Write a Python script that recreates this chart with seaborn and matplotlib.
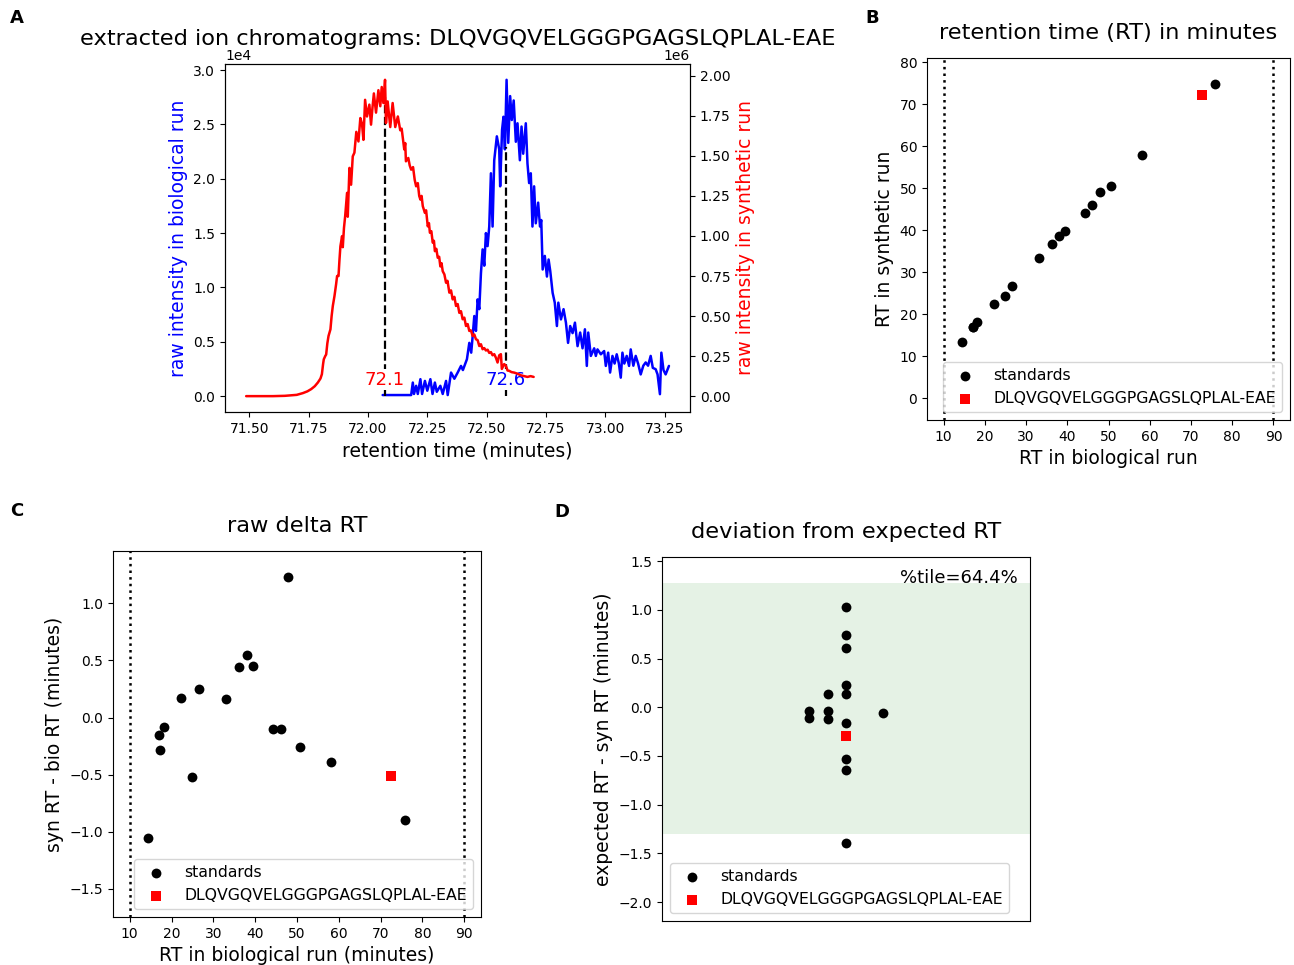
import numpy as np
import matplotlib
matplotlib.use("Agg")
import matplotlib.pyplot as plt
import matplotlib.transforms as mtransforms
import seaborn as sns

peptide = "DLQVGQVELGGGPGAGSLQPLAL-EAE"

# --- A: extracted ion chromatograms ---
# biological run, intensity in units of 1e4
bio_rt = [72.062, 72.10, 72.14, 72.182, 72.189, 72.194, 72.203, 72.210, 72.221, 72.228,
          72.24, 72.25, 72.263, 72.272, 72.282, 72.29, 72.305, 72.315, 72.329, 72.336,
          72.35, 72.364, 72.378, 72.392, 72.40, 72.417, 72.427, 72.435, 72.441, 72.448,
          72.455, 72.462, 72.469, 72.476, 72.483, 72.490, 72.497, 72.504, 72.511, 72.518,
          72.525, 72.532, 72.543, 72.553, 72.557, 72.565, 72.571, 72.577, 72.584, 72.591,
          72.599, 72.606, 72.614, 72.623, 72.63, 72.64, 72.647, 72.654, 72.665, 72.672,
          72.679, 72.686, 72.693, 72.70, 72.707, 72.717, 72.725, 72.73, 72.736, 72.745,
          72.754, 72.761, 72.768, 72.778, 72.787, 72.796, 72.802, 72.813, 72.824, 72.834,
          72.843, 72.852, 72.862, 72.872, 72.883, 72.894, 72.904, 72.914, 72.922, 72.928,
          72.939, 72.953, 72.96, 72.967, 72.981, 72.995, 73.002, 73.012, 73.02, 73.03,
          73.039, 73.048, 73.057, 73.065, 73.072, 73.08, 73.09, 73.10, 73.107, 73.118,
          73.128, 73.138, 73.149, 73.16, 73.17, 73.18, 73.191, 73.20, 73.212, 73.22,
          73.23, 73.236, 73.245, 73.254, 73.268]
bio_int = [0.01, 0.01, 0.01, 0.01, 0.125, 0.02, 0.095, 0.02, 0.156, 0.02,
           0.14, 0.05, 0.156, 0.02, 0.125, 0.04, 0.095, 0.02, 0.14, 0.01,
           0.217, 0.16, 0.217, 0.278, 0.24, 0.34, 0.49, 0.40, 0.55, 0.737,
           0.60, 0.89, 0.80, 1.13, 1.35, 1.20, 1.50, 1.38, 1.56, 2.05,
           1.56, 2.17, 2.39, 2.27, 1.93, 2.45, 2.57, 2.27, 2.91, 2.33,
           2.76, 2.54, 2.72, 2.34, 2.51, 2.17, 2.48, 2.23, 2.51, 2.14,
           1.96, 2.05, 1.56, 1.93, 1.59, 1.78, 1.56, 1.62, 1.165, 1.29,
           1.10, 1.257, 1.15, 0.95, 0.86, 0.645, 0.86, 0.706, 0.80, 0.676,
           0.49, 0.645, 0.58, 0.676, 0.46, 0.585, 0.44, 0.615, 0.278, 0.585,
           0.37, 0.44, 0.37, 0.43, 0.385, 0.415, 0.278, 0.40, 0.217, 0.37,
           0.30, 0.385, 0.30, 0.17, 0.40, 0.30, 0.37, 0.278, 0.43, 0.28,
           0.37, 0.30, 0.20, 0.28, 0.31, 0.28, 0.37, 0.26, 0.248, 0.20,
           0.018, 0.40, 0.24, 0.20, 0.278]

# synthetic run, intensity in units of 1e6
syn_rt = [71.487, 71.55, 71.60, 71.65, 71.70, 71.726, 71.745, 71.761, 71.776, 71.789,
          71.800, 71.806, 71.811, 71.814, 71.820, 71.824, 71.829, 71.834, 71.842, 71.847,
          71.852, 71.859, 71.866, 71.870, 71.876, 71.880, 71.884, 71.891, 71.894, 71.899,
          71.904, 71.912, 71.915, 71.922, 71.929, 71.936, 71.943, 71.951, 71.96, 71.968,
          71.975, 71.981, 71.988, 71.996, 72.006, 72.013, 72.019, 72.025, 72.034, 72.044,
          72.052, 72.058, 72.065, 72.072, 72.076, 72.083, 72.094, 72.104, 72.115, 72.126,
          72.136, 72.142, 72.153, 72.157, 72.16, 72.17, 72.176, 72.182, 72.19, 72.197,
          72.203, 72.21, 72.216, 72.221, 72.226, 72.231, 72.24, 72.245, 72.252, 72.257,
          72.261, 72.267, 72.273, 72.278, 72.282, 72.288, 72.294, 72.30, 72.305, 72.31,
          72.315, 72.322, 72.329, 72.335, 72.343, 72.35, 72.357, 72.364, 72.371, 72.378,
          72.385, 72.392, 72.399, 72.406, 72.413, 72.42, 72.427, 72.434, 72.441, 72.448,
          72.455, 72.462, 72.469, 72.476, 72.483, 72.49, 72.497, 72.504, 72.511, 72.518,
          72.525, 72.532, 72.539, 72.546, 72.553, 72.56, 72.564, 72.567, 72.574, 72.581,
          72.588, 72.595, 72.605, 72.616, 72.63, 72.644, 72.658, 72.672, 72.685, 72.698]
syn_int = [0.0, 0.0, 0.0, 0.002, 0.008, 0.019, 0.03, 0.044, 0.062, 0.085,
           0.11, 0.137, 0.20, 0.23, 0.25, 0.26, 0.33, 0.376, 0.417, 0.50,
           0.563, 0.625, 0.70, 0.75, 0.75, 0.85, 0.936, 0.999, 0.93, 1.05,
           1.123, 1.269, 1.12, 1.425, 1.32, 1.497, 1.52, 1.65, 1.59, 1.736,
           1.70, 1.60, 1.85, 1.746, 1.82, 1.695, 1.80, 1.89, 1.77, 1.91,
           1.81, 1.93, 1.83, 1.975, 1.705, 1.84, 1.68, 1.83, 1.68, 1.746,
           1.66, 1.67, 1.54, 1.58, 1.466, 1.487, 1.44, 1.414, 1.43, 1.35,
           1.31, 1.33, 1.25, 1.227, 1.25, 1.186, 1.144, 1.16, 1.06, 1.08,
           1.02, 1.03, 0.958, 0.97, 0.905, 0.92, 0.864, 0.87, 0.81, 0.83,
           0.78, 0.76, 0.708, 0.72, 0.646, 0.66, 0.604, 0.62, 0.563, 0.575,
           0.52, 0.53, 0.48, 0.49, 0.438, 0.45, 0.407, 0.41, 0.376, 0.385,
           0.355, 0.35, 0.313, 0.324, 0.293, 0.30, 0.285, 0.29, 0.27, 0.275,
           0.255, 0.262, 0.24, 0.21, 0.255, 0.262, 0.17, 0.179, 0.2, 0.19,
           0.16, 0.158, 0.15, 0.147, 0.14, 0.13, 0.125, 0.12, 0.125, 0.12]

# apex positions and heights of the dashed markers (left axis, 1e4 units)
apex_syn, apex_syn_h = 72.07, 2.75
apex_bio, apex_bio_h = 72.58, 2.29

# --- B/C: standards ---
std_bio = [14.45, 17.05, 17.2, 18.1, 22.3, 24.85, 26.5, 33.1, 36.2, 38.1,
           39.4, 44.3, 46.1, 47.9, 50.7, 58.2, 75.8]
std_delta = [-1.05, -0.15, -0.28, -0.08, 0.175, -0.52, 0.25, 0.16, 0.44, 0.55,
             0.455, -0.10, -0.10, 1.23, -0.255, -0.385, -0.90]
pep_bio = 72.6
pep_delta = -0.515
gradient = [10, 90]

# --- D: deviation from expected RT ---
dev_vals = [1.03, 0.74, 0.613, 0.226, 0.14, 0.14, -0.038, -0.106, -0.038, -0.123,
            -0.055, -0.164, -0.527, -0.647, -1.393]
dev_slot = [0, 0, 0, 0, 0, -1, -2, -2, -1, -1, 2, 0, 0, 0, 0]
pep_dev = -0.298
band_lo, band_hi = -1.297, 1.273
pctile = 64.4

std_syn = [b + d for b, d in zip(std_bio, std_delta)]
pep_syn = pep_bio + pep_delta

sns.set_style("ticks", {"axes.edgecolor": "black", "text.color": "black",
                        "axes.labelcolor": "black", "xtick.color": "black",
                        "ytick.color": "black"})
plt.rcParams["font.family"] = ["DejaVu Sans"]

TITLE = 16.2
LABEL = 13.5
LEG = 11.3

fig = plt.figure(figsize=(12.94, 9.65), dpi=100)
axA = fig.add_axes([0.1739, 0.5731, 0.3594, 0.3606])
axB = fig.add_axes([0.7164, 0.5648, 0.2805, 0.3751])
axC = fig.add_axes([0.0873, 0.0497, 0.2844, 0.3793])
axD = fig.add_axes([0.5116, 0.0456, 0.2844, 0.3772])

# A
sns.lineplot(x=bio_rt, y=np.array(bio_int) * 1e4, color="blue", lw=1.8,
             sort=False, estimator=None, ax=axA)
axA.vlines(apex_syn, 0, apex_syn_h * 1e4, colors="k", linestyles="--", lw=1.6)
axA.vlines(apex_bio, 0, apex_bio_h * 1e4, colors="k", linestyles="--", lw=1.6)
axA.text(apex_syn, 0.15e4, f"{apex_syn:.1f}", color="red", ha="center", va="center",
         fontsize=13, bbox=dict(fc="white", ec="none", pad=1))
axA.text(apex_bio, 0.15e4, f"{apex_bio:.1f}", color="blue", ha="center", va="center",
         fontsize=13, bbox=dict(fc="white", ec="none", pad=1))
axA2 = axA.twinx()
sns.lineplot(x=syn_rt, y=np.array(syn_int) * 1e6, color="red", lw=1.8,
             sort=False, estimator=None, ax=axA2)
axA.ticklabel_format(axis="y", style="sci", scilimits=(0, 0))
axA2.ticklabel_format(axis="y", style="sci", scilimits=(0, 0))
axA.set_xlabel("retention time (minutes)", fontsize=LABEL)
axA.set_ylabel("raw intensity in biological run", color="blue", fontsize=LABEL)
axA2.set_ylabel("raw intensity in synthetic run", color="red", fontsize=LABEL)
axA.set_title("extracted ion chromatograms: " + peptide, fontsize=TITLE, pad=14)

# B
sns.scatterplot(x=std_bio, y=std_syn, color="black", s=50, linewidth=0,
                label="standards", ax=axB)
sns.scatterplot(x=[pep_bio], y=[pep_syn], color="red", marker="s", s=60, linewidth=0,
                label=peptide, ax=axB)
for g in gradient:
    axB.axvline(g, color="black", ls=":", lw=1.8)
axB.set_xlim(6, 94)
axB.set_ylim(-5.2, 81)
axB.set_xticks(range(10, 91, 10))
axB.set_yticks(range(0, 81, 10))
axB.set_xlabel("RT in biological run", fontsize=LABEL)
axB.set_ylabel("RT in synthetic run", fontsize=LABEL)
axB.set_title("retention time (RT) in minutes", fontsize=TITLE, pad=14)
axB.legend(loc="lower right", fontsize=LEG)

# C
sns.scatterplot(x=std_bio, y=std_delta, color="black", s=50, linewidth=0,
                label="standards", ax=axC)
sns.scatterplot(x=[pep_bio], y=[pep_delta], color="red", marker="s", s=60, linewidth=0,
                label=peptide, ax=axC)
for g in gradient:
    axC.axvline(g, color="black", ls=":", lw=1.8)
axC.set_xlim(6, 94)
axC.set_ylim(-1.746, 1.457)
axC.set_xticks(range(10, 91, 10))
axC.set_yticks([-1.5, -1.0, -0.5, 0.0, 0.5, 1.0])
axC.set_xlabel("RT in biological run (minutes)", fontsize=LABEL)
axC.set_ylabel("syn RT - bio RT (minutes)", fontsize=LABEL)
axC.set_title("raw delta RT", fontsize=TITLE, pad=14)
axC.legend(loc="lower right", fontsize=LEG)

# D
axD.axhspan(band_lo, band_hi, color="green", alpha=0.1, lw=0)
sns.scatterplot(x=dev_slot, y=dev_vals, color="black", s=50, linewidth=0,
                label="standards", ax=axD)
sns.scatterplot(x=[0], y=[pep_dev], color="red", marker="s", s=60, linewidth=0,
                label=peptide, ax=axD)
trans = mtransforms.blended_transform_factory(axD.transAxes, axD.transData)
axD.text(0.967, band_hi, f"%tile={pctile}%", transform=trans, ha="right",
         va="baseline", fontsize=13)
axD.set_xlim(-10, 10)
axD.set_ylim(-2.194, 1.543)
axD.set_xticks([])
axD.set_yticks([-2.0, -1.5, -1.0, -0.5, 0.0, 0.5, 1.0, 1.5])
axD.set_ylabel("expected RT - syn RT (minutes)", fontsize=LABEL)
axD.set_title("deviation from expected RT", fontsize=TITLE, pad=14)
axD.legend(loc="lower left", fontsize=LEG)

for lab, (x, y) in zip("ABCD", [(17, 18), (872, 18), (17, 511), (562, 512)]):
    fig.text(x / 1294, 1 - y / 965, lab, fontsize=13, fontweight="bold",
             ha="center", va="center")

fig.savefig("out.png", dpi=100)
